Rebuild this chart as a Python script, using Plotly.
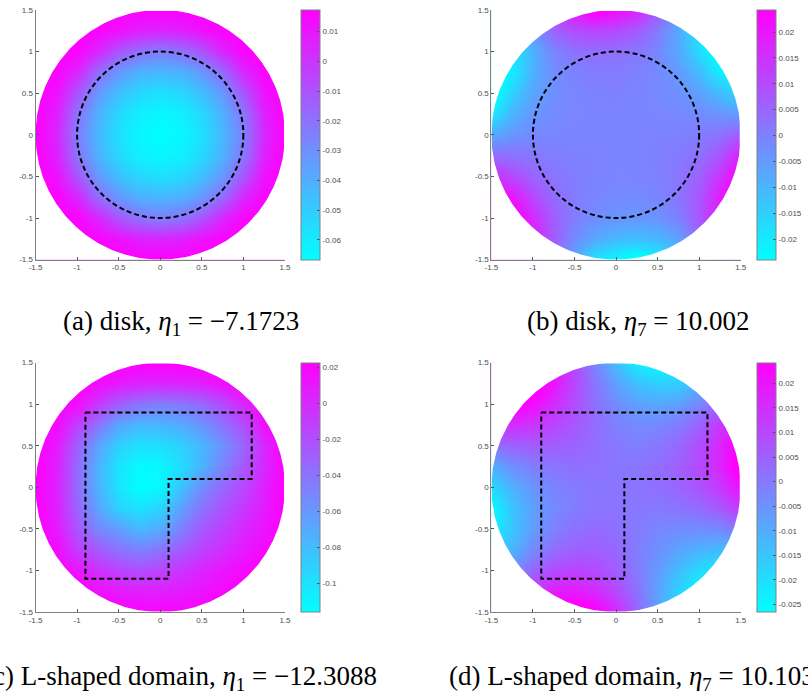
import numpy as np
import plotly.graph_objects as go

# ---------------- data ----------------
grid = [-1.5, -1.25, -1.0, -0.75, -0.5, -0.25, 0.0, 0.25, 0.5, 0.75, 1.0, 1.25, 1.5]

axis_tickvals = [-1.5, -1, -0.5, 0, 0.5, 1, 1.5]
axis_ticktext = ["-1.5", "-1", "-0.5", "0", "0.5", "1", "1.5"]

# field values (units of 1e-3), rows from y = 1.5 (top) down to y = -1.5, columns x = -1.5 .. 1.5
disk_eta1 = [
    [17.3, 17.3, 17.3, 17.3, 17.3, 17.3, 17.3, 17.3, 17.3, 17.3, 17.3, 17.3, 17.3],
    [17.3, 17.3, 17.3, 16, 12, 7, 5, 7, 12, 16, 17.3, 17.3, 17.3],
    [17.3, 17.3, 16, 5, -11, -21, -25, -21, -11, 5, 16, 17.3, 17.3],
    [17.3, 16, 5, -18, -33, -41, -43, -41, -33, -18, 5, 16, 17.3],
    [17.3, 12, -11, -33, -46, -54, -57, -54, -46, -33, -11, 12, 17.3],
    [17.3, 7, -21, -41, -54, -62, -64, -62, -54, -41, -21, 7, 17.3],
    [17.3, 5, -25, -43, -57, -64, -66.7, -64, -57, -43, -25, 5, 17.3],
    [17.3, 7, -21, -41, -54, -62, -64, -62, -54, -41, -21, 7, 17.3],
    [17.3, 12, -11, -33, -46, -54, -57, -54, -46, -33, -11, 12, 17.3],
    [17.3, 16, 5, -18, -33, -41, -43, -41, -33, -18, 5, 16, 17.3],
    [17.3, 17.3, 16, 5, -11, -21, -25, -21, -11, 5, 16, 17.3, 17.3],
    [17.3, 17.3, 17.3, 16, 12, 7, 5, 7, 12, 16, 17.3, 17.3, 17.3],
    [17.3, 17.3, 17.3, 17.3, 17.3, 17.3, 17.3, 17.3, 17.3, 17.3, 17.3, 17.3, 17.3],
]

disk_eta7 = [
    [-12.8, -5.8, 2.7, 12.3, 21.0, 26.1, 22.3, 18.1, 7.2, -4.1, -13.6, -20.4, -24.6],
    [-18.8, -12.8, -4.3, 5.1, 9.7, 11.0, 10.0, 6.9, 1.2, -8.2, -19.3, -24.6, -27.0],
    [-24.1, -19.9, -9.1, -1.0, 2.6, 3.3, 2.8, 1.6, -1.4, -7.4, -17.4, -27.2, -27.3],
    [-27.3, -20.6, -9.1, -2.8, -0.2, 0.9, 0.8, 0.0, -1.8, -5.0, -11.5, -21.2, -24.3],
    [-26.4, -15.4, -6.9, -2.8, -1.0, -0.2, 0.0, -0.6, -1.6, -3.1, -6.2, -11.5, -16.9],
    [-20.1, -9.9, -4.1, -2.1, -1.1, -0.6, -0.4, -0.7, -1.0, -1.5, -2.2, -3.8, -5.4],
    [-7.9, -3.9, -1.6, -0.9, -0.7, -0.5, -0.5, -0.5, -0.3, -0.1, 0.6, 2.9, 6.9],
    [4.4, 2.8, 1.2, 0.5, 0.0, -0.3, -0.6, -0.4, 0.1, 1.1, 3.1, 8.9, 19.1],
    [15.9, 10.5, 5.2, 2.1, 0.6, -0.4, -1.0, -0.8, 0.0, 1.8, 5.9, 14.4, 25.4],
    [23.3, 20.2, 10.5, 4.0, 0.8, -1.0, -1.8, -1.9, -0.8, 1.8, 8.1, 19.6, 26.3],
    [26.3, 26.2, 16.4, 6.4, 0.4, -2.6, -3.8, -4.3, -3.6, 0.0, 8.1, 18.9, 23.1],
    [26.0, 23.6, 18.3, 7.2, -2.2, -7.9, -11.0, -12.0, -10.7, -6.1, 3.3, 11.8, 17.8],
    [23.6, 19.4, 12.6, 3.1, -8.2, -19.1, -23.3, -27.1, -22.0, -13.3, -3.7, 4.8, 11.8],
]

lshape_eta1 = [
    [22.7, 22.7, 22.7, 22.7, 22.7, 22.7, 22.7, 22.7, 22.7, 22.7, 22.7, 22.7, 22.7],
    [22.7, 22.7, 22.7, 17.2, 8.9, 3.3, 1.9, 3.3, 6.1, 14.4, 22.7, 22.7, 22.7],
    [22.7, 22.7, 15.8, -7.7, -29.9, -42.3, -46.5, -43.7, -35.4, -18.8, 1.9, 22.7, 22.7],
    [22.7, 17.2, -11.9, -39.6, -67.3, -76.9, -75.6, -70.0, -57.6, -39.6, -18.8, 15.8, 22.7],
    [22.7, 8.9, -29.9, -65.9, -90.8, -99.8, -98.4, -90.8, -76.9, -56.2, -32.7, 1.9, 22.7],
    [22.7, 6.1, -35.4, -74.2, -101.2, -113.6, -111.5, -97.7, -74.2, -49.3, -24.4, 1.9, 22.7],
    [22.7, 4.7, -36.8, -74.2, -101.2, -115.7, -111.5, -81.1, -53.4, -32.7, -16.1, 6.1, 22.7],
    [22.7, 6.1, -32.7, -65.9, -91.5, -100.5, -92.2, -63.1, -39.6, -21.6, -7.7, 8.9, 22.7],
    [22.7, 8.9, -24.4, -50.6, -63.1, -78.3, -70.0, -46.5, -25.7, -11.9, 0.6, 13.0, 22.7],
    [22.7, 17.2, -10.5, -25.7, -39.6, -47.9, -39.6, -25.7, -13.3, -2.2, 8.9, 18.6, 22.7],
    [22.7, 22.7, 11.6, -3.6, -13.3, -18.8, -13.3, -5.0, 3.3, 11.6, 18.6, 22.7, 22.7],
    [22.7, 22.7, 22.7, 15.8, 8.9, 6.1, 6.1, 8.9, 13.0, 18.6, 22.7, 22.7, 22.7],
    [22.7, 22.7, 22.7, 22.7, 22.7, 19.9, 19.9, 19.9, 22.7, 22.7, 22.7, 22.7, 22.7],
]

lshape_eta7 = [
    [27.7, 27.8, 25.5, 19.7, 9.9, -2.6, -13.7, -23.4, -26.0, -23.3, -17.4, -10.2, -3.2],
    [25.5, 27.7, 27.6, 20.3, 10.1, 0.4, -7.8, -14.0, -17.1, -16.9, -11.7, -3.2, 4.1],
    [20.8, 24.8, 21.7, 15.5, 8.6, 1.9, -3.7, -7.5, -8.9, -7.3, -2.3, 5.7, 12.4],
    [12.7, 15.4, 13.5, 10.4, 6.4, 2.5, -1.4, -3.5, -3.1, -0.5, 5.0, 13.6, 20.5],
    [1.6, 4.6, 5.8, 5.4, 4.5, 2.4, 0.1, -0.8, 0.5, 3.5, 9.0, 17.1, 26.5],
    [-10.7, -4.5, -0.8, 1.1, 1.9, 1.6, 0.8, 0.9, 2.4, 5.2, 9.6, 17.0, 27.8],
    [-19.2, -11.1, -5.5, -2.2, -0.2, 0.8, 1.0, 1.2, 2.2, 4.2, 7.5, 13.1, 21.2],
    [-25.8, -15.0, -7.6, -3.2, -0.4, 1.1, 1.2, 0.4, 0.1, 0.9, 2.8, 6.5, 12.7],
    [-24.5, -15.1, -7.0, -1.5, 1.5, 2.8, 1.9, -0.4, -2.5, -3.4, -3.8, -2.6, 0.4],
    [-18.5, -11.6, -3.0, 2.5, 5.1, 5.5, 3.4, -0.5, -4.4, -8.4, -11.5, -13.4, -10.7],
    [-10.4, -3.7, 4.3, 9.3, 10.9, 9.5, 5.7, 0.1, -6.6, -13.5, -19.7, -22.8, -18.8],
    [-2.1, 5.2, 13.7, 18.9, 19.1, 16.0, 9.8, 1.6, -8.1, -18.3, -25.6, -25.7, -23.5],
    [5.2, 12.2, 19.4, 25.3, 28.0, 25.4, 15.7, 4.6, -7.9, -17.7, -23.5, -25.8, -25.7],
]

# colour limits (units of 1e-3)
clim_disk_eta1 = [-66.7, 17.3]
clim_disk_eta7 = [-24.0, 24.3]
clim_lshape_eta1 = [-115.7, 22.7]
clim_lshape_eta7 = [-26.5, 24.2]

cbar_vals_a = [-0.06, -0.05, -0.04, -0.03, -0.02, -0.01, 0, 0.01]
cbar_text_a = ["-0.06", "-0.05", "-0.04", "-0.03", "-0.02", "-0.01", "0", "0.01"]
cbar_vals_b = [-0.02, -0.015, -0.01, -0.005, 0, 0.005, 0.01, 0.015, 0.02]
cbar_text_b = ["-0.02", "-0.015", "-0.01", "-0.005", "0", "0.005", "0.01", "0.015", "0.02"]
cbar_vals_c = [-0.1, -0.08, -0.06, -0.04, -0.02, 0, 0.02]
cbar_text_c = ["-0.1", "-0.08", "-0.06", "-0.04", "-0.02", "0", "0.02"]
cbar_vals_d = [-0.025, -0.02, -0.015, -0.01, -0.005, 0, 0.005, 0.01, 0.015, 0.02]
cbar_text_d = ["-0.025", "-0.02", "-0.015", "-0.01", "-0.005", "0", "0.005", "0.01", "0.015", "0.02"]

captions = [
    "(a) disk, <i>η</i><sub>1</sub> = −7.1723",
    "(b) disk, <i>η</i><sub>7</sub> = 10.002",
    "(c) L-shaped domain, <i>η</i><sub>1</sub> = −12.3088",
    "(d) L-shaped domain, <i>η</i><sub>7</sub> = 10.1033",
]

l_shape_x = [-0.9, 1.1, 1.1, 0.1, 0.1, -0.9, -0.9]
l_shape_y = [0.9, 0.9, 0.1, 0.1, -1.1, -1.1, 0.9]
inner_circle_radius = 1.0
disk_radius = 1.5

# ---------------- layout geometry (pixels) ----------------
W, H = 808, 696
cols = [(29.0, 282.5), (492.3, 745.7)]
rows_px = [(6.0, 259.0), (363.3, 616.0)]
cbar_left = [299.0, 762.7]
caption_x = [176.5, 641.5]
caption_y = [323.0, 683.0]

cool = [[0.0, "rgb(0,255,255)"], [1.0, "rgb(255,0,255)"]]
tick_color = "#555555"
line_color = "#808080"
tick_font = dict(family="Liberation Sans, Arial, sans-serif", size=8, color="#4d4d4d")

panels = [
    (disk_eta1, clim_disk_eta1, cbar_vals_a, cbar_text_a, "circle"),
    (disk_eta7, clim_disk_eta7, cbar_vals_b, cbar_text_b, "circle"),
    (lshape_eta1, clim_lshape_eta1, cbar_vals_c, cbar_text_c, "L"),
    (lshape_eta7, clim_lshape_eta7, cbar_vals_d, cbar_text_d, "L"),
]

fig = go.Figure()

# white mask outside the disk
th = np.linspace(np.pi, 3 * np.pi, 721)
R = disk_radius
m = 1.7
mask_x = [-m, -m, m, m, -m, -m, -R] + list(R * np.cos(th)) + [-m]
mask_y = [0, m, m, -m, -m, 0, 0] + list(R * np.sin(th)) + [0]

shapes = []
annotations = []
for k, (vals, clim, cvals, ctext, boundary) in enumerate(panels):
    r, c = divmod(k, 2)
    ax = "" if k == 0 else str(k + 1)
    xref, yref = "x" + ax, "y" + ax
    x0, x1 = cols[c]
    y0, y1 = rows_px[r]
    xdom = [x0 / W, x1 / W]
    ydom = [1 - y1 / H, 1 - y0 / H]

    z = np.array(vals, dtype=float)[::-1] / 1000.0
    fig.add_trace(go.Heatmap(
        x=grid, y=grid, z=z, zsmooth="best",
        zmin=clim[0] / 1000.0, zmax=clim[1] / 1000.0,
        colorscale=cool, xaxis=xref, yaxis=yref,
        colorbar=dict(
            x=cbar_left[c] / W, xanchor="left",
            y=1 - (y0 + y1) / 2 / H, yanchor="middle",
            len=(y1 - y0) / H, lenmode="fraction",
            thickness=19, thicknessmode="pixels",
            xpad=0, ypad=0,
            outlinewidth=1, outlinecolor=line_color,
            ticks="inside", ticklen=3, tickcolor=tick_color,
            tickvals=cvals, ticktext=ctext, tickfont=tick_font,
        ),
        hoverinfo="skip",
    ))
    fig.add_trace(go.Scatter(
        x=mask_x, y=mask_y, mode="lines", fill="toself",
        fillcolor="white", line=dict(width=0, color="white"),
        xaxis=xref, yaxis=yref, showlegend=False, hoverinfo="skip",
    ))
    if boundary == "circle":
        ri = inner_circle_radius
        shapes.append(dict(type="circle", xref=xref, yref=yref,
                           x0=-ri, x1=ri, y0=-ri, y1=ri,
                           line=dict(color="black", width=2, dash="5px,3px")))
    else:
        fig.add_trace(go.Scatter(
            x=l_shape_x, y=l_shape_y, mode="lines",
            line=dict(color="black", width=2, dash="5px,3px"),
            xaxis=xref, yaxis=yref, showlegend=False, hoverinfo="skip",
        ))

    # thin white strips hiding anti-aliasing seams on the open (top / right) plot edges
    shapes.append(dict(type="rect", xref="paper", yref="paper", layer="above",
                       x0=(x0 + 4) / W, x1=(x1 + 1.5) / W,
                       y0=1 - (y0 + 1.0) / H, y1=1 - (y0 - 1.5) / H,
                       line=dict(width=0), fillcolor="white"))
    shapes.append(dict(type="rect", xref="paper", yref="paper", layer="above",
                       x0=(x1 - 1.0) / W, x1=(x1 + 1.5) / W,
                       y0=1 - (y1 - 4) / H, y1=1 - (y0 - 1.5) / H,
                       line=dict(width=0), fillcolor="white"))

    axis_common = dict(
        range=[-1.5, 1.5], showgrid=False, zeroline=False,
        showline=True, linecolor=line_color, linewidth=1,
        ticks="inside", ticklen=3, tickcolor=tick_color,
        tickvals=axis_tickvals, ticktext=axis_ticktext, tickfont=tick_font,
        mirror=False, fixedrange=True,
    )
    fig.layout["xaxis" + ax] = dict(domain=xdom, anchor=yref, **axis_common)
    fig.layout["yaxis" + ax] = dict(domain=ydom, anchor=xref, **axis_common)

    annotations.append(dict(
        text=captions[k], xref="paper", yref="paper",
        x=caption_x[c] / W, y=1 - caption_y[r] / H,
        xanchor="center", yanchor="middle", showarrow=False,
        font=dict(family="Liberation Serif, Times New Roman, serif", size=27, color="black"),
    ))

fig.update_layout(
    width=W, height=H, margin=dict(l=0, r=0, t=0, b=0),
    paper_bgcolor="white", plot_bgcolor="white",
    showlegend=False, shapes=shapes, annotations=annotations,
)

fig.write_html("out.html")
